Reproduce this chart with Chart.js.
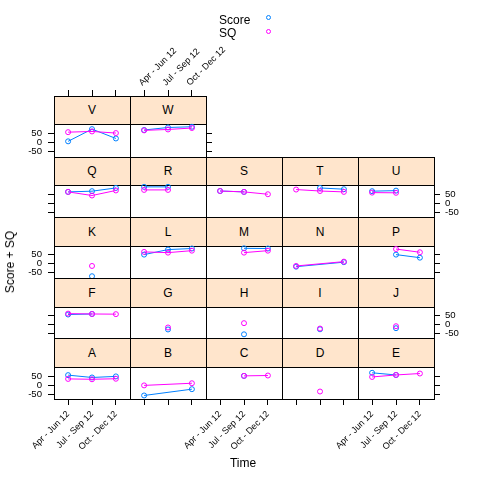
<!DOCTYPE html>
<html><head><meta charset="utf-8">
<script src="https://cdn.jsdelivr.net/npm/chart.js@4/dist/chart.umd.min.js"></script>
<style>
body{margin:0;background:#fff;}
#wrap{position:relative;width:480px;height:480px;overflow:hidden;background:#fff;font-family:"Liberation Sans",Arial,Helvetica,sans-serif;}
.strip{position:absolute;background:#ffe5cc;box-sizing:border-box;border-bottom:1px solid #000;font-size:12px;color:#000;display:flex;align-items:center;justify-content:center;z-index:0;}
canvas{position:absolute;z-index:1;}
.lbl{position:absolute;font-size:12px;color:#000;white-space:nowrap;z-index:2;line-height:14px;}
.key{position:absolute;width:5px;height:5px;box-sizing:border-box;border-radius:50%;border:1px solid;z-index:2;}
</style></head><body><div id="wrap"></div>
<script>
// ---- data ----
const categories = ['Apr - Jun 12', 'Jul - Sep 12', 'Oct - Dec 12'];
const seriesNames = ['Score', 'SQ'];
const panelNames = ['A','B','C','D','E','F','G','H','I','J','K','L','M','N','P','Q','R','S','T','U','V','W'];
const scoreValues = [
  [57, 44, 50],        // A
  [-56, null, -21],    // B
  [null, 53, null],    // C
  [null, null, null],  // D
  [70, 58, null],      // E
  [56, 59, null],      // F
  [null, -27, null],   // G
  [null, -54, null],   // H
  [null, -26, null],   // I
  [null, -20, null],   // J
  [null, -69, null],   // K
  [51, 79, 85],        // L
  [null, 86, 85],      // M
  [-16, null, 9],      // N
  [null, 51, 34],      // P
  [65, 69, 87],        // Q
  [93, 93, null],      // R
  [70, 65, null],      // S
  [null, 87, 80],      // T
  [69, 72, null],      // U
  [7, 75, 23],         // V
  [70, 84, 88]         // W
];
const sqValues = [
  [36, 34, 37],        // A
  [0, null, 12],       // B
  [null, 53, 55],      // C
  [null, -34, null],   // D
  [47, 58, 66],        // E
  [61, 59, 58],        // F
  [null, -16, null],   // G
  [null, 8, null],     // H
  [null, -22, null],   // I
  [null, -9, null],    // J
  [null, -12, null],   // K
  [66, 62, 73],        // L
  [null, 62, 73],      // M
  [-12, null, 12],     // N
  [null, 82, 64],      // P
  [65, 45, 73],        // Q
  [76, 76, null],      // R
  [70, 65, 52],        // S
  [78, 70, 65],        // T
  [61, 60, null],      // U
  [58, 62, 53],        // V
  [68, 73, 81]         // W
];
const yTickValues = [-50, 0, 50];

// ---- layout ----
const FAMILY = '"Liberation Sans", Arial, Helvetica, sans-serif';
const COL_LEFT = 54, COL_W = 76;
const ROW_TOPS = [96, 157, 217, 278, 338, 399];
const STRIP_H = [28, 28, 29, 29, 29];
const ZERO_Y = [142.6, 203.6, 263.8, 324.6, 385.4];
const UPX = 50 / 9;
const M = 70;
const X_MIN = -0.59, X_MAX = 2.59;
const SCORE_COLOR = '#0080ff', SQ_COLOR = '#ff00ff';

const wrap = document.getElementById('wrap');

function fixPad(s) { s.paddingLeft = 0; s.paddingRight = 0; s.paddingTop = 0; s.paddingBottom = 0; }

function xAxis(position, showTicks, showLabels) {
  const isTop = position === 'top';
  return {
    type: 'linear', axis: 'x', position, min: X_MIN, max: X_MAX, bounds: 'data', display: true,
    afterBuildTicks: s => { s.ticks = categories.map((_, i) => ({ value: i })); },
    afterFit: s => { s.height = M; fixPad(s); },
    grid: { display: showTicks, drawOnChartArea: false, drawTicks: true, tickLength: 6, color: '#000', lineWidth: 1 },
    border: { display: true, color: '#000', width: 1 },
    ticks: { display: showLabels, autoSkip: false, minRotation: 45, maxRotation: 45,
             padding: isTop ? 2 : 4, labelOffset: isTop ? 4 : 0, color: '#000',
             font: { family: FAMILY, size: 9 }, callback: v => categories[v] }
  };
}
function yAxis(position, showTicks, showLabels, min, max) {
  return {
    type: 'linear', axis: 'y', position, min, max, bounds: 'data', display: true,
    afterBuildTicks: s => { s.ticks = yTickValues.map(v => ({ value: v })); },
    afterFit: s => { s.width = M; fixPad(s); },
    grid: { display: showTicks, drawOnChartArea: false, drawTicks: true, tickLength: 6, color: '#000', lineWidth: 1 },
    border: { display: true, color: '#000', width: 1 },
    ticks: { display: showLabels, padding: position === 'left' ? 6 : 5, color: '#000',
             font: { family: FAMILY, size: 9.6 }, callback: v => String(v) }
  };
}
function series(values, label, color, order) {
  return {
    label, order, data: values.map((v, i) => ({ x: i, y: v })),
    borderColor: color, borderWidth: 1, backgroundColor: 'rgba(0,0,0,0)',
    pointRadius: 2.5, pointBorderWidth: 1, pointBorderColor: color, pointBackgroundColor: 'rgba(0,0,0,0)',
    pointStyle: 'circle', spanGaps: true, tension: 0, xAxisID: 'x', yAxisID: 'y', fill: false
  };
}

panelNames.forEach((name, i) => {
  const c = i % 5, r = 4 - Math.floor(i / 5);
  const left = COL_LEFT + c * COL_W, top = ROW_TOPS[r], h = ROW_TOPS[r + 1] - top;
  const strip = document.createElement('div');
  strip.className = 'strip';
  strip.style.left = left + 'px'; strip.style.top = top + 'px';
  strip.style.width = COL_W + 'px'; strip.style.height = (STRIP_H[r] + 1) + 'px';
  strip.textContent = name;
  wrap.appendChild(strip);

  const cv = document.createElement('canvas');
  cv.width = COL_W + 2 * M; cv.height = h + 2 * M;
  cv.style.left = (left - M) + 'px'; cv.style.top = (top - M) + 'px';
  cv.style.width = cv.width + 'px'; cv.style.height = cv.height + 'px';
  wrap.appendChild(cv);

  const yMax = (ZERO_Y[r] - top) * UPX, yMin = yMax - h * UPX;
  const lastCol = r === 0 ? 1 : 4;
  const scales = {
    x: xAxis('bottom', r === 4, r === 4 && c % 2 === 0),
    xTop: xAxis('top', r === 0, r === 0 && c % 2 === 1),
    y: yAxis('left', c === 0, c === 0 && r % 2 === 0, yMin, yMax),
    yRight: yAxis('right', c === lastCol, c === lastCol && r % 2 === 1, yMin, yMax)
  };
  new Chart(cv, {
    type: 'line',
    data: { datasets: [
      series(sqValues[i], seriesNames[1], SQ_COLOR, 0),
      series(scoreValues[i], seriesNames[0], SCORE_COLOR, 1)
    ] },
    options: {
      responsive: false, maintainAspectRatio: false, animation: false, devicePixelRatio: 1,
      events: [], layout: { padding: 0 },
      plugins: { legend: { display: false }, tooltip: { enabled: false }, title: { display: false } },
      scales
    }
  });
});

// ---- titles and key ----
function addLabel(text, css) {
  const d = document.createElement('div');
  d.className = 'lbl'; d.textContent = text;
  Object.assign(d.style, css);
  wrap.appendChild(d);
  return d;
}
addLabel('Time', { left: '243px', top: '463px', transform: 'translate(-50%,-50%)' });
addLabel('Score + SQ', { left: '10px', top: '262px', transform: 'translate(-50%,-50%) rotate(-90deg)' });
addLabel(seriesNames[0], { left: '219px', top: '13px' });
addLabel(seriesNames[1], { left: '219px', top: '26px' });
[[SCORE_COLOR, 15], [SQ_COLOR, 29]].forEach(([col, t]) => {
  const k = document.createElement('div');
  k.className = 'key';
  k.style.left = '266px'; k.style.top = t + 'px'; k.style.borderColor = col;
  wrap.appendChild(k);
});
</script></body></html>
